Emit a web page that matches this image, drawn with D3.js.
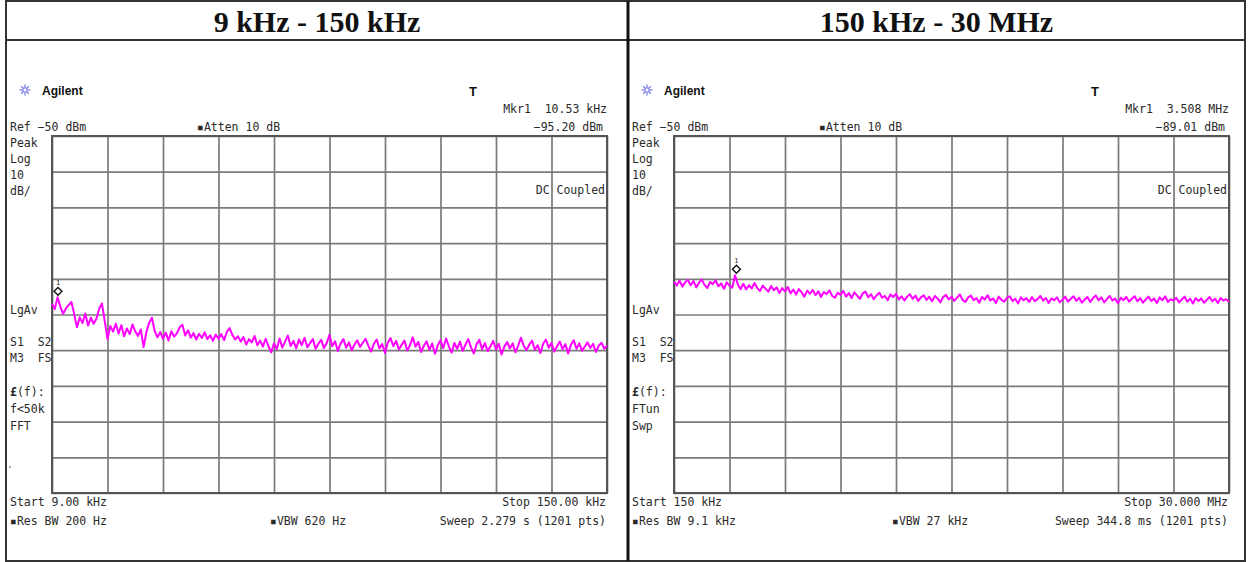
<!DOCTYPE html>
<html>
<head>
<meta charset="utf-8">
<script src="https://cdn.jsdelivr.net/npm/d3@7"></script>
<style>
  html, body { margin: 0; padding: 0; background: #fff; }
  svg { display: block; }
  .scr { font-family: "DejaVu Sans Mono", monospace; font-size: 11.5px; fill: #2a2a2a; white-space: pre; }
</style>
</head>
<body>
<svg id="chart" width="1248" height="562"></svg>
<script>
// Sweep settings of the two spectrum analyser captures
const panelTitles = ["9 kHz - 150 kHz", "150 kHz - 30 MHz"];
const sweepStart = [9, 0.15];
const sweepStop = [150, 30];
const freqUnit = ["kHz", "MHz"];
const startLabel = ["9.00 kHz", "150 kHz"];
const stopLabel = ["150.00 kHz", "30.000 MHz"];
const resBW = ["200 Hz", "9.1 kHz"];
const vbw = ["620 Hz", "27 kHz"];
const sweepTime = ["2.279 s", "344.8 ms"];
const sweepPoints = 1201;
const refLevel = -50;      // dBm, top of graticule
const dbPerDiv = 10;
const attenuation = 10;    // dB
const markerFreq = [10.53, 3.508];
const markerFreqDigits = [2, 3];
const markerLevel = [-95.20, -89.01];
const detectorNotes = [["f<50k", "FFT"], ["FTun", "Swp"]];

// Trace levels (dBm), evenly spaced over each sweep
const traceLow = [
  -97.0,-98.5,-95.2,-97.8,-99.8,-98.3,-97.4,-96.5,-99.9,-103.6,
  -100.8,-102.4,-99.7,-103.1,-100.9,-102.6,-101.2,-98.4,-96.9,-101.8,
  -106.9,-103.2,-104.8,-102.6,-105.3,-103.0,-106.1,-103.9,-105.5,-102.8,
  -104.7,-106.0,-104.2,-109.1,-105.0,-102.3,-100.9,-104.6,-106.4,-104.9,
  -106.8,-105.1,-107.3,-104.7,-106.2,-105.3,-103.6,-102.9,-105.9,-104.4,
  -106.5,-105.2,-107.0,-105.4,-106.6,-105.0,-106.9,-105.8,-107.4,-105.6,
  -106.8,-105.5,-107.2,-104.9,-103.8,-105.7,-107.0,-106.1,-107.6,-106.3,
  -108.4,-106.9,-107.8,-106.0,-108.6,-107.3,-109.0,-106.8,-108.9,-110.6,
  -108.1,-109.7,-106.7,-109.3,-107.6,-105.9,-108.8,-107.4,-109.5,-107.0,
  -108.6,-106.5,-109.2,-108.0,-106.9,-109.6,-108.2,-107.1,-109.4,-108.0,
  -105.7,-108.9,-107.5,-110.2,-108.1,-106.9,-109.3,-107.8,-110.0,-108.4,
  -107.2,-109.1,-107.9,-106.8,-108.7,-110.4,-108.2,-107.0,-109.5,-108.3,
  -110.8,-107.9,-106.6,-108.9,-107.4,-109.8,-108.5,-107.3,-110.1,-108.6,
  -106.4,-109.0,-107.7,-110.5,-108.8,-107.5,-109.9,-108.1,-111.0,-108.7,
  -107.2,-109.4,-106.7,-108.9,-110.7,-108.0,-109.6,-107.6,-110.2,-108.4,
  -106.9,-109.2,-110.9,-108.3,-107.1,-109.7,-108.0,-110.3,-108.9,-107.4,
  -109.8,-108.2,-111.2,-109.0,-107.7,-109.5,-108.1,-110.6,-108.7,-106.5,
  -108.8,-110.0,-108.4,-107.3,-109.9,-108.6,-110.8,-108.2,-107.0,-109.3,
  -108.0,-110.4,-108.9,-107.6,-109.7,-108.3,-110.9,-108.5,-107.2,-109.6,
  -108.1,-110.2,-109.0,-107.8,-109.4,-108.2,-110.5,-108.8,-107.9,-109.6,
  -108.7
];
const traceHigh = [
  -90.8,-91.9,-90.5,-92.2,-91.0,-90.3,-91.8,-90.6,-92.4,-91.1,
  -90.2,-91.7,-92.6,-90.9,-91.5,-90.4,-92.1,-91.3,-92.8,-91.0,
  -91.9,-92.5,-89.0,-91.6,-92.9,-91.4,-93.0,-91.8,-92.7,-91.2,
  -92.6,-93.4,-91.9,-92.8,-93.6,-92.0,-93.2,-92.4,-94.0,-92.6,
  -93.5,-92.3,-94.1,-93.0,-94.4,-92.9,-93.8,-95.0,-93.3,-94.2,
  -93.1,-94.6,-93.5,-95.1,-93.7,-94.3,-93.2,-94.8,-95.3,-93.9,
  -94.5,-93.4,-95.0,-94.0,-95.4,-93.8,-94.7,-95.6,-94.1,-93.6,
  -95.2,-94.3,-95.7,-94.6,-93.9,-95.3,-94.8,-96.0,-94.4,-95.1,
  -94.2,-95.8,-94.9,-96.1,-95.0,-94.3,-95.6,-94.7,-96.2,-95.2,
  -94.6,-95.9,-95.0,-96.3,-94.8,-95.5,-96.6,-95.1,-94.5,-95.8,
  -95.0,-96.2,-95.3,-94.4,-95.9,-96.5,-95.2,-94.7,-96.0,-95.4,
  -96.7,-95.1,-95.8,-94.6,-96.1,-95.5,-96.8,-95.0,-95.9,-96.4,
  -95.3,-94.9,-96.2,-95.6,-96.9,-95.2,-96.0,-95.4,-96.5,-95.1,
  -96.3,-95.7,-94.8,-96.1,-95.4,-96.8,-95.5,-96.0,-95.2,-96.6,
  -95.9,-95.0,-96.4,-95.6,-94.9,-96.2,-95.3,-96.7,-95.8,-95.1,
  -96.5,-95.4,-94.7,-96.0,-95.2,-96.6,-95.7,-94.8,-96.1,-95.5,
  -96.9,-95.3,-96.0,-95.1,-96.4,-95.6,-94.9,-96.3,-95.4,-96.7,
  -95.8,-95.0,-96.2,-95.5,-96.8,-95.2,-96.0,-94.9,-96.5,-95.7,
  -96.1,-95.3,-96.6,-95.8,-95.0,-96.4,-95.6,-96.9,-95.4,-96.2,
  -95.5,-96.7,-95.9,-95.1,-96.3,-95.6,-96.8,-95.4,-96.1,-95.7,
  -96.5
];
const traces = [traceLow, traceHigh];

const svg = d3.select("#chart");

// Page frame: title row and the divider between the two captures
const frame = { left: 6, right: 1245, top: 1, bottom: 561, header: 40, split: 628 };
svg.append("rect")
  .attr("x", frame.left).attr("y", frame.top)
  .attr("width", frame.right - frame.left).attr("height", frame.bottom - frame.top)
  .attr("fill", "none").attr("stroke", "#333").attr("stroke-width", 2);
svg.append("line")
  .attr("x1", frame.left).attr("x2", frame.right)
  .attr("y1", frame.header).attr("y2", frame.header)
  .attr("stroke", "#333").attr("stroke-width", 2);
svg.append("line")
  .attr("x1", frame.split).attr("x2", frame.split)
  .attr("y1", frame.top).attr("y2", frame.bottom)
  .attr("stroke", "#111").attr("stroke-width", 3);

const titleCenters = [(frame.left + frame.split) / 2, (frame.split + frame.right) / 2];
svg.selectAll("text.title").data(panelTitles).join("text")
  .attr("class", "title")
  .attr("x", (d, i) => titleCenters[i]).attr("y", 32)
  .attr("text-anchor", "middle")
  .attr("font-family", "'Liberation Serif', 'Times New Roman', serif")
  .attr("font-weight", "bold").attr("font-size", 30).attr("fill", "#111")
  .text(d => d);

// Graticule geometry
const gridX = 52, gridY = 136, gridW = 555, gridH = 357, divs = 10;
const panelOffset = [0, 622];

function drawPanel(p) {
  const ox = panelOffset[p];
  const g = svg.append("g").attr("transform", `translate(${ox},0)`);

  const x = d3.scaleLinear().domain([sweepStart[p], sweepStop[p]]).range([0, gridW]);
  const y = d3.scaleLinear().domain([refLevel - dbPerDiv * divs, refLevel]).range([gridH, 0]);

  const plot = g.append("g").attr("transform", `translate(${gridX},${gridY})`);

  // graticule: one line per division in each direction
  const xTicks = d3.range(divs + 1).map(k => sweepStart[p] + k * (sweepStop[p] - sweepStart[p]) / divs);
  const yTicks = d3.range(divs + 1).map(k => refLevel - k * dbPerDiv);
  const xAxis = plot.append("g")
    .call(d3.axisBottom(x).tickValues(xTicks).tickSize(gridH).tickFormat(""));
  const yAxis = plot.append("g")
    .call(d3.axisLeft(y).tickValues(yTicks).tickSize(-gridW).tickFormat(""));
  [xAxis, yAxis].forEach(a => {
    a.select(".domain").remove();
    a.selectAll(".tick line").attr("stroke", "#7a7a7a").attr("stroke-width", 1.7);
  });
  plot.append("rect").attr("width", gridW).attr("height", gridH)
    .attr("fill", "none").attr("stroke", "#555").attr("stroke-width", 2);

  // trace
  const tr = traces[p];
  const step = (sweepStop[p] - sweepStart[p]) / (tr.length - 1);
  const line = d3.line()
    .x((d, i) => x(sweepStart[p] + i * step))
    .y(d => y(d));
  plot.append("path").datum(tr)
    .attr("d", line)
    .attr("fill", "none").attr("stroke", "#ff00ff")
    .attr("stroke-width", 2).attr("stroke-linejoin", "round");

  // marker 1
  const mx = x(markerFreq[p]), my = y(markerLevel[p]) - 6;
  plot.append("path")
    .attr("d", d3.symbol(d3.symbolDiamond2, 40)())
    .attr("transform", `translate(${mx},${my})`)
    .attr("fill", "#fff").attr("stroke", "#111").attr("stroke-width", 1.4);
  plot.append("text").attr("x", mx).attr("y", my - 6)
    .attr("text-anchor", "middle")
    .attr("font-family", "'DejaVu Sans Mono', monospace").attr("font-size", 7).attr("fill", "#222")
    .text("1");

  // screen annotations
  const t = (txt, tx, ty, anchor) => g.append("text").attr("class", "scr")
    .attr("x", tx).attr("y", ty).attr("text-anchor", anchor || "start").text(txt);

  const fmt = d3.format(`.${markerFreqDigits[p]}f`);
  t(`Mkr1  ${fmt(markerFreq[p])} ${freqUnit[p]}`, 607, 113, "end");
  t(`${d3.format(".2f")(markerLevel[p]).replace("-", "\u2212")} dBm`, 603, 131, "end");
  t(`Ref \u2212${Math.abs(refLevel)} dBm`, 10, 131);
  t(`\u25aaAtten ${attenuation} dB`, 197, 131);
  ["Peak", "Log", String(dbPerDiv), "dB/"].forEach((s, i) => t(s, 10, 147 + i * 16));
  t("DC Coupled", 605, 194, "end");
  t("LgAv", 10, 314);
  t("S1  S2", 10, 346);
  t("M3  FS", 10, 362);
  const lf = g.append("text").attr("class", "scr").attr("x", 10).attr("y", 396);
  lf.append("tspan").attr("font-weight", "bold").text("\u00a3");
  lf.append("tspan").text("(f):");
  detectorNotes[p].forEach((s, i) => t(s, 10, 413 + i * 17));
  t(`Start ${startLabel[p]}`, 10, 506);
  t(`\u25aaRes BW ${resBW[p]}`, 10, 525);
  t(`\u25aaVBW ${vbw[p]}`, 270, 525);
  t(`Stop ${stopLabel[p]}`, 606, 506, "end");
  t(`Sweep ${sweepTime[p]} (${sweepPoints} pts)`, 606, 525, "end");

  // brand line
  const icon = g.append("g").attr("transform", "translate(25,90)");
  d3.range(8).forEach(k => {
    const a = k * Math.PI / 4;
    icon.append("line")
      .attr("x1", Math.cos(a) * 2.5).attr("y1", Math.sin(a) * 2.5)
      .attr("x2", Math.cos(a) * 5.5).attr("y2", Math.sin(a) * 5.5)
      .attr("stroke", "#7f7fe8").attr("stroke-width", 1.3);
  });
  icon.append("circle").attr("r", 2.2).attr("fill", "none").attr("stroke", "#7f7fe8").attr("stroke-width", 1.2);
  g.append("text").attr("x", 42).attr("y", 95)
    .attr("font-family", "'Liberation Sans', Arial, sans-serif")
    .attr("font-weight", "bold").attr("font-size", 12).attr("fill", "#111")
    .text("Agilent");
  g.append("text").attr("x", 473).attr("y", 96).attr("text-anchor", "middle")
    .attr("font-family", "'Liberation Sans', Arial, sans-serif")
    .attr("font-weight", "bold").attr("font-size", 13).attr("fill", "#111")
    .text("T");

  if (p === 0) {
    g.append("circle").attr("cx", 10).attr("cy", 467).attr("r", 0.8).attr("fill", "#444");
  }
}

drawPanel(0);
drawPanel(1);
</script>
</body>
</html>
